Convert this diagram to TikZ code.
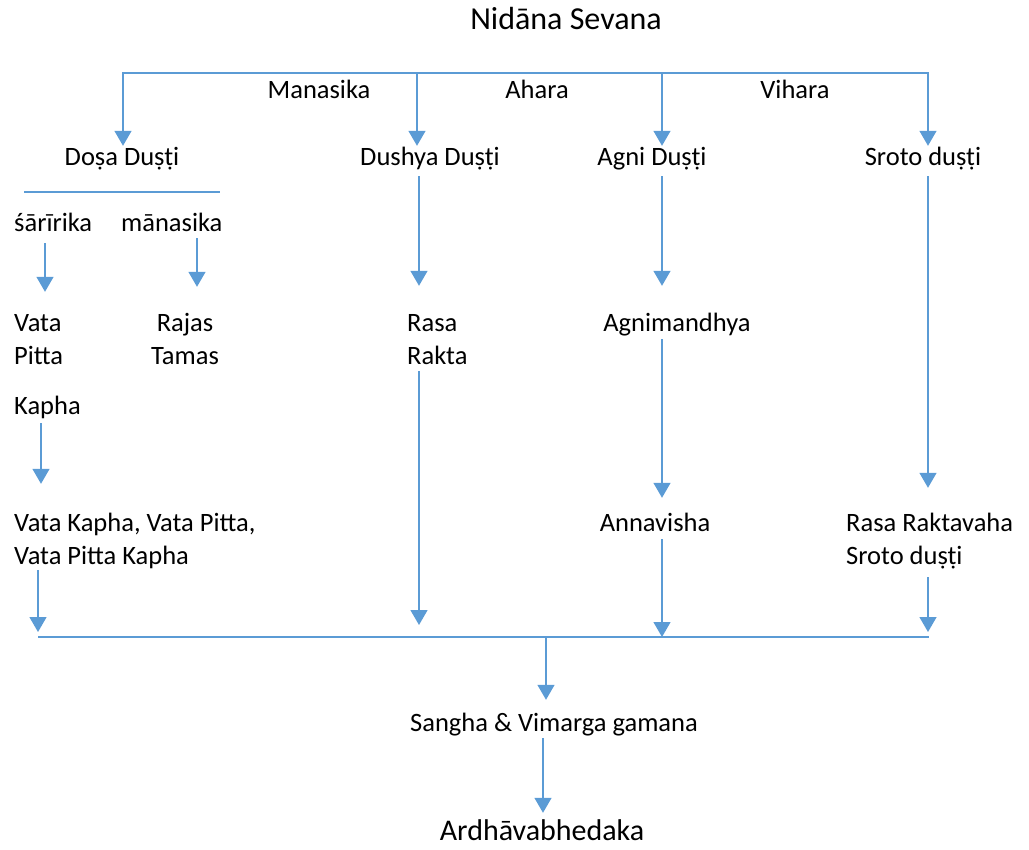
\documentclass[tikz,border=0pt]{standalone}
\usepackage{fontspec}
\setmainfont{Carlito}
\usetikzlibrary{arrows.meta}
\definecolor{flow}{HTML}{5B9BD5}
\begin{document}
\begin{tikzpicture}[x=1pt,y=-1pt,
  lbl/.style={inner sep=0pt, text height=18pt, text depth=6pt, font=\fontsize{26.5}{32}\selectfont},
  lw/.style={lbl, anchor=base west},
  lc/.style={lbl, anchor=base},
  flowline/.style={draw=flow, line width=1.4pt},
  arr/.style={flowline, -{Triangle[width=17pt,length=15pt]}},
]
\useasboundingbox (0,0) rectangle (1029,850);

% labels
\node[lc, font=\fontsize{32}{38}\selectfont] (title) at (566,30) {Nidāna Sevana};
\node[lc] (manas)  at (319,99) {Manasika};
\node[lc] (ahara)  at (537,99) {Ahara};
\node[lc] (vihara) at (795,99) {Vihara};
\node[lc] (dosa)   at (122,166) {Doṣa Duṣṭi};
\node[lc] (dushya) at (430,166) {Dushya Duṣṭi};
\node[lc] (agni)   at (652,166) {Agni Duṣṭi};
\node[lc] (sroto)  at (923,166) {Sroto duṣṭi};
\node[lw] (sarira) at (14,232) {śārīrika};
\node[lw] (manasa) at (121,232) {mānasika};
\node[lw] (vata)   at (14,332) {Vata};
\node[lw] (pitta)  at (14,365) {Pitta};
\node[lw] (kapha)  at (14,415) {Kapha};
\node[lc] (rajas)  at (185,332) {Rajas};
\node[lc] (tamas)  at (185,365) {Tamas};
\node[lw] (rasa)   at (407,332) {Rasa};
\node[lw] (rakta)  at (407,365) {Rakta};
\node[lc] (agnim)  at (677,332) {Agnimandhya};
\node[lc] (anna)   at (655,531) {Annavisha};
\node[lw] (rrv)    at (846,531) {Rasa Raktavaha};
\node[lw] (srd)    at (846,564) {Sroto duṣṭi};
\node[lw] (vk)     at (14,531) {Vata Kapha, Vata Pitta,};
\node[lw] (vpk)    at (14,564) {Vata Pitta Kapha};
\node[lc] (sangha) at (554,731) {Sangha \& Vimarga gamana};
\node[lc, font=\fontsize{30}{36}\selectfont, text height=21pt] (ardha) at (542,840) {Ardhāvabhedaka};

% bars and columns
\coordinate (barL) at (123,73);
\coordinate (barR) at (928,73);
\coordinate (cDushya) at (417,73);
\coordinate (cAgni) at (662,73);
\coordinate (divL) at (24,192);
\coordinate (divR) at (220,192);
\coordinate (lowL) at (38,637);
\coordinate (lowR) at (929,637);
\coordinate (cSar) at (45,0);
\coordinate (cMan) at (197,0);
\coordinate (cKap) at (41,0);
\coordinate (cVpk) at (38,0);
\coordinate (cRas) at (419,0);
\coordinate (cSro) at (928,0);
\coordinate (cSan) at (546,0);
\coordinate (cArd) at (543,0);

% top distribution bar
\draw[arr, shorten >=2pt] (barR) -- (barL) -- (dosa.north -| barL);
\draw[arr, shorten >=2pt] (barL) -- (barR) -- (sroto.north -| barR);
\draw[arr, shorten >=2pt] (cDushya) -- (dushya.north -| cDushya);
\draw[arr, shorten >=2pt] (cAgni) -- (agni.north -| cAgni);

% dosa split
\draw[flowline, line width=1.2pt] (divL) -- (divR);
\draw[arr, shorten <=5pt, shorten >=22pt] (sarira.south -| cSar) -- (vata.north -| cSar);
\draw[arr, shorten >=27pt] (manasa.south -| cMan) -- (rajas.north -| cMan);
\draw[arr, shorten <=2pt, shorten >=29pt] (kapha.south -| cKap) -- (vk.north -| cKap);

% dushya, agni, srotas chains
\draw[arr, shorten <=4pt, shorten >=28pt] (dushya.south -| cRas) -- (rasa.north -| cRas);
\draw[arr, shorten <=4pt, shorten >=28pt] (agni.south -| cAgni) -- (agnim.north -| cAgni);
\draw[arr, shorten <=1pt, shorten >=15pt] (agnim.south -| cAgni) -- (anna.north -| cAgni);
\draw[arr, shorten <=4pt, shorten >=25pt] (sroto.south -| cSro) -- (rrv.north -| cSro);

% into the lower bar
\draw[flowline] (lowL) -- (lowR);
\draw[arr, shorten >=5pt] (vpk.south -| cVpk) -- (lowL -| cVpk);
\draw[arr, shorten >=12pt] (rakta.south -| cRas) -- (lowL -| cRas);
\draw[arr, shorten <=2pt] (anna.south -| cAgni) -- (lowL -| cAgni);
\draw[arr, shorten <=7pt, shorten >=5pt] (srd.south -| cSro) -- (lowL -| cSro);

% outcome
\draw[arr, shorten >=13pt] (lowL -| cSan) -- (sangha.north -| cSan);
\draw[arr, shorten <=1pt, shorten >=6pt] (sangha.south -| cArd) -- (ardha.north -| cArd);
\end{tikzpicture}
\end{document}
